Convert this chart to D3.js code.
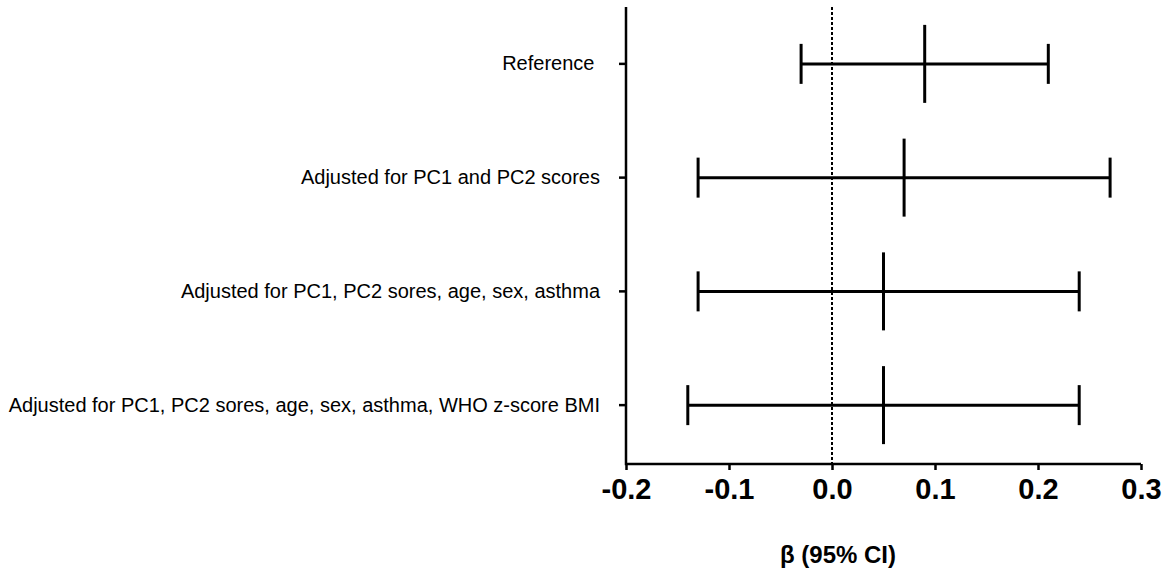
<!DOCTYPE html>
<html>
<head>
<meta charset="utf-8">
<script src="https://cdn.jsdelivr.net/npm/d3@7"></script>
<style>
  body { margin: 0; background: #fff; }
  svg { display: block; font-family: "Liberation Sans", Arial, sans-serif; }
</style>
</head>
<body>
<svg width="1171" height="577"></svg>
<script>
// models, top to bottom
var models = [
    "Reference ",
    "Adjusted for PC1 and PC2 scores",
    "Adjusted for PC1, PC2 sores, age, sex, asthma",
    "Adjusted for PC1, PC2 sores, age, sex, asthma, WHO z-score BMI"
];
var beta  = [0.09, 0.07, 0.05, 0.05];
var lower = [-0.03, -0.13, -0.13, -0.14];
var upper = [0.21, 0.27, 0.24, 0.24];
var xTicks = [-0.2, -0.1, 0.0, 0.1, 0.2, 0.3];
var xTitle = "β (95% CI)";

var svg = d3.select("svg");

/* plot box */
var pLeft = 626, pRight = 1141, pTop = 7, pBottom = 464;

var x = d3.scaleLinear().domain([-0.2, 0.3]).range([pLeft, pRight]);
var y = d3.scaleBand().domain(models).range([pTop, 462]);

var rows = models.map(function(m, i) {
    return {name: m, est: beta[i], lo: lower[i], hi: upper[i]};
});

/* reference line at zero */
svg.append("line")
    .attr("x1", x(0)).attr("x2", x(0))
    .attr("y1", pTop).attr("y2", pBottom)
    .attr("stroke", "#000")
    .attr("stroke-width", 2)
    .attr("stroke-dasharray", "3,2");

/* x axis */
var fmt = d3.format(".1f");
var xAxis = svg.append("g")
    .attr("transform", "translate(0," + pBottom + ")")
    .call(d3.axisBottom(x).tickValues(xTicks)
        .tickFormat(function(d) { return fmt(d).replace("−", "-"); })
        .tickSizeOuter(0).tickSize(6).tickPadding(8));
xAxis.select(".domain").remove();
xAxis.selectAll(".tick line").attr("stroke-width", 2.5);
xAxis.selectAll(".tick text")
    .attr("font-size", 29)
    .attr("font-weight", "bold")
    .attr("fill", "#000")
    .attr("font-family", "'Liberation Sans', Arial, sans-serif");

/* y axis */
var yAxis = svg.append("g")
    .attr("transform", "translate(" + pLeft + ",0)")
    .call(d3.axisLeft(y).tickSizeOuter(0).tickSize(7).tickPadding(19));
yAxis.select(".domain").remove();
yAxis.selectAll(".tick line").attr("stroke-width", 2.5);
yAxis.selectAll(".tick text")
    .attr("font-size", 20)
    .attr("fill", "#000")
    .style("white-space", "pre")
    .attr("font-family", "'Liberation Sans', Arial, sans-serif");

/* axis lines */
svg.append("path")
    .attr("d", "M" + pLeft + "," + pTop + "V" + pBottom + "H" + pRight)
    .attr("fill", "none")
    .attr("stroke", "#000")
    .attr("stroke-width", 2.5);

/* error bars */
var g = svg.append("g").attr("stroke", "#000").attr("stroke-width", 3);
var cy = function(d) { return y(d.name) + y.bandwidth() / 2; };

g.selectAll(".ci").data(rows).enter().append("line")
    .attr("x1", function(d) { return x(d.lo); })
    .attr("x2", function(d) { return x(d.hi); })
    .attr("y1", cy).attr("y2", cy);

g.selectAll(".capLo").data(rows).enter().append("line")
    .attr("x1", function(d) { return x(d.lo); })
    .attr("x2", function(d) { return x(d.lo); })
    .attr("y1", function(d) { return cy(d) - 20; })
    .attr("y2", function(d) { return cy(d) + 20; });

g.selectAll(".capHi").data(rows).enter().append("line")
    .attr("x1", function(d) { return x(d.hi); })
    .attr("x2", function(d) { return x(d.hi); })
    .attr("y1", function(d) { return cy(d) - 20; })
    .attr("y2", function(d) { return cy(d) + 20; });

g.selectAll(".est").data(rows).enter().append("line")
    .attr("x1", function(d) { return x(d.est); })
    .attr("x2", function(d) { return x(d.est); })
    .attr("y1", function(d) { return cy(d) - 39; })
    .attr("y2", function(d) { return cy(d) + 39; });

/* axis title */
svg.append("text")
    .attr("x", 838)
    .attr("y", 563)
    .attr("text-anchor", "middle")
    .attr("font-size", 24)
    .attr("font-weight", "bold")
    .text(xTitle);
</script>
</body>
</html>
